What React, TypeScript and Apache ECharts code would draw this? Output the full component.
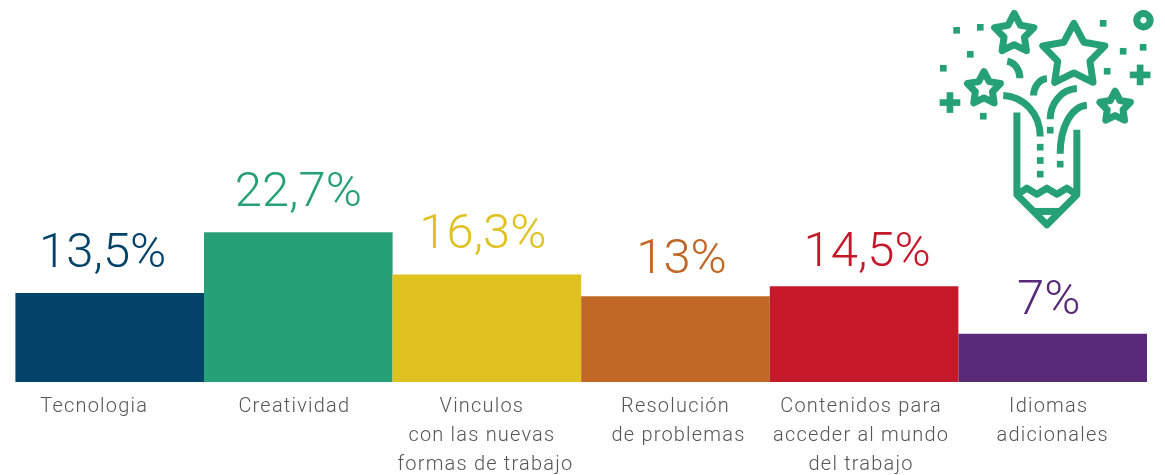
import React, { useEffect, useRef } from "react";
import * as echarts from "echarts";

const categories = ["Tecnologia", "Creatividad", "Vinculos\ncon las nuevas\nformas de trabajo", "Resolución\nde problemas", "Contenidos para\nacceder al mundo\ndel trabajo", "Idiomas\nadicionales"];
const values = [13.5, 22.7, 16.3, 13, 14.5, 7.3];
const valueLabels = ["13,5%", "22,7%", "16,3%", "13%", "14,5%", "7%"];
const colors = ["#03436a", "#25a077", "#dfc220", "#c16726", "#c51929", "#592a78"];
const labelOffsets = [[-7, -3], [0, -3], [-4, -3], [6, 0], [3, 3], [-4, 3]];
const lineShifts = [[31], [8], [10, 10, 3], [0, -6], [6, 6, 6], [8, 0]];

const GREEN = "#25a077";
const SW = 21;
const line = { stroke: GREEN, lineWidth: SW, fill: "none", lineJoin: "round" as const };

function star(cx: number, cy: number, R: number) {
  const pts: number[][] = [];
  for (let i = 0; i < 10; i++) {
    const r = i % 2 === 0 ? R : R * 0.52;
    const a = -Math.PI / 2 + (i * Math.PI) / 5;
    pts.push([cx + r * Math.cos(a), cy + r * Math.sin(a)]);
  }
  return { type: "polygon", shape: { points: pts }, style: line };
}
const square = ([x, y]: number[]) => ({ type: "rect", shape: { x: x - 10, y: y - 10, width: 20, height: 20 }, style: { fill: GREEN } });
const plus = ([x, y]: number[]) => [
  { type: "rect", shape: { x: x - 31, y: y - 10, width: 62, height: 20 }, style: { fill: GREEN } },
  { type: "rect", shape: { x: x - 10, y: y - 31, width: 20, height: 62 }, style: { fill: GREEN } },
];
const curve = (x1: number, y1: number, c1x: number, c1y: number, c2x: number, c2y: number, x2: number, y2: number) => ({
  type: "bezierCurve",
  shape: { x1, y1, cpx1: c1x, cpy1: c1y, cpx2: c2x, cpy2: c2y, x2, y2 },
  style: { ...line, lineCap: "butt" },
});
const poly = (points: number[][]) => ({ type: "polyline", shape: { points }, style: line });

const dots = [[110, 91], [181, 82], [151, 163], [70, 205], [550, 70], [610, 154], [670, 142], [562, 214], [190, 349], [391, 391], [361, 442], [361, 482], [361, 523], [421, 493]];

const iconChildren: any[] = [
  star(283, 102, 62),
  star(462, 168, 98),
  star(192, 267, 52),
  star(586, 322, 48),
  ...dots.map(square),
  ...plus([90, 308]),
  ...plus([661, 225]),
  { type: "circle", shape: { cx: 671, cy: 61, r: 20 }, style: { fill: "none", stroke: GREEN, lineWidth: SW } },
  curve(262, 184, 285, 188, 300, 210, 300, 235),
  curve(381, 236, 358, 238, 341, 262, 341, 287),
  curve(250, 287, 310, 290, 361, 340, 361, 410),
  curve(471, 266, 425, 268, 391, 310, 391, 358),
  curve(501, 316, 455, 320, 421, 380, 421, 462),
  poly([[291, 338], [291, 585], [381, 675], [471, 585], [471, 390]]),
  poly([[291, 585], [321, 565], [351, 583], [381, 565], [411, 583], [441, 565], [471, 585]]),
  poly([[340, 635], [422, 635]]),
];

export default function App() {
  const ref = useRef<HTMLDivElement>(null);
  useEffect(() => {
    const chart = echarts.init(ref.current!, undefined, { renderer: "svg" });
    const rich: any = {};
    lineShifts.forEach((row, i) =>
      row.forEach((s, j) => {
        rich[`c${i}l${j}`] = {
          fontFamily: "Roboto",
          fontWeight: 300,
          fontSize: 20,
          color: "#555",
          lineHeight: 29,
          padding: [0, Math.max(s, 0), 0, Math.max(-s, 0)],
        };
      })
    );
    chart.setOption({
      animation: false,
      grid: { left: 15.4, right: 18, top: 52, height: 330 },
      xAxis: {
        type: "category",
        data: categories,
        axisLine: { show: false },
        axisTick: { show: false },
        axisLabel: {
          interval: 0,
          margin: 8,
          formatter: (v: string) => {
            const i = categories.indexOf(v);
            return v.split("\n").map((l, j) => `{c${i}l${j}|${l}}`).join("\n");
          },
          rich,
        },
      },
      yAxis: { type: "value", min: 0, max: 50, show: false, splitLine: { show: false } },
      series: [
        {
          type: "bar",
          barCategoryGap: 0,
          data: values.map((v, i) => ({
            value: v,
            itemStyle: { color: colors[i] },
            label: {
              show: true,
              position: "top",
              distance: 15,
              offset: labelOffsets[i],
              formatter: valueLabels[i],
              fontFamily: "Roboto",
              fontWeight: 300,
              fontSize: 49,
              color: colors[i],
            },
          })),
        },
      ],
      graphic: [{ type: "group", x: 920, y: 0, scaleX: 1 / 3, scaleY: 1 / 3, silent: true, children: iconChildren }],
    });
    return () => chart.dispose();
  }, []);
  return (
    <>
      <style>{`.chart-box{letter-spacing:1.2px} .chart-box text[style*="49px"]{letter-spacing:0}`}</style>
      <div ref={ref} className="chart-box" style={{ position: "fixed", left: 0, top: 0, width: 1165, height: 475 }} />
    </>
  );
}
